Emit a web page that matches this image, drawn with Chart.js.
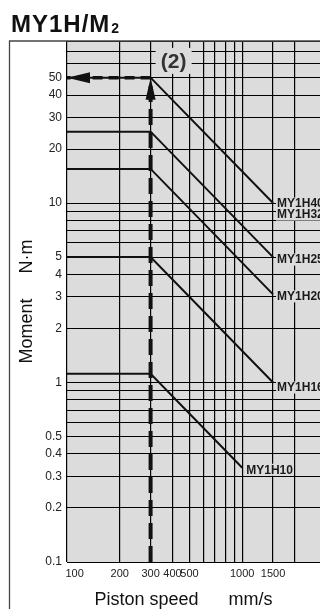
<!DOCTYPE html>
<html>
<head>
<meta charset="utf-8">
<script src="https://cdn.jsdelivr.net/npm/chart.js@4.4.1/dist/chart.umd.min.js"></script>
<style>
  html, body { margin: 0; padding: 0; background: #fff; }
  #wrap { position: relative; width: 320px; height: 609px; }
</style>
</head>
<body>
<div id="wrap"><canvas id="chart"></canvas></div>
<script>
// ── Data ───────────────────────────────────────────────
const speedTicks  = [100, 200, 300, 400, 500, 600, 700, 800, 900, 1000, 1500, 2000];
const speedLabels = [100, 200, 300, 400, 500, 1000, 1500];
const momentTicks = [0.1, 0.2, 0.3, 0.4, 0.5, 0.6, 0.7, 0.8, 0.9,
                     1, 2, 3, 4, 5, 6, 7, 8, 9,
                     10, 20, 30, 40, 50, 60, 70, 80];
const momentLabels = [0.1, 0.2, 0.3, 0.4, 0.5, 1, 2, 3, 4, 5, 10, 20, 30, 40, 50];

const curveSpeeds = [100, 300, 1500];
const m40 = [50, 50, 10];
const m25 = [25, 25, 5];
const m20 = [15.5, 15.5, 3.1];
const m16 = [5, 5, 1];
const m10Speeds = [100, 300, 1000];
const m10 = [1.12, 1.12, 0.335];

// guide: speed 300 mm/s up to the curve, then across to the moment axis
const guideUpSpeeds   = [300, 300];
const guideUpMoments  = [0.1, 50];
const guideLeftSpeeds = [300, 100];
const guideLeftMoments = [50, 50];

const curveNames = ['MY1H40', 'MY1H32', 'MY1H25', 'MY1H20', 'MY1H16', 'MY1H10'];

// ── Helpers ────────────────────────────────────────────
const BG = '#dcdcdc';
const INK = '#111';
const pts = (xs, ys) => xs.map((x, i) => ({ x, y: ys[i] }));

function curve(xs, ys) {
    return { data: pts(xs, ys), borderColor: INK, borderWidth: 2, pointRadius: 0, tension: 0, fill: false };
}

// ── Decoration plugin ──────────────────────────────────
const decor = {
    id: 'decor',
    beforeDraw(chart) {
        const { ctx, chartArea: a } = chart;
        ctx.save();
        ctx.fillStyle = '#fff';
        ctx.fillRect(0, 0, chart.width, chart.height);
        ctx.fillStyle = BG;
        ctx.fillRect(a.left, a.top, a.right - a.left, a.bottom - a.top);
        ctx.restore();
    },
    afterDatasetsDraw(chart) {
        const { ctx, scales: { x, y } } = chart;
        ctx.save();

        // arrow heads
        const px = x.getPixelForValue(guideUpSpeeds[1]);
        const py = y.getPixelForValue(guideUpMoments[1]);
        ctx.fillStyle = INK;
        ctx.beginPath();
        ctx.moveTo(px, py);
        ctx.lineTo(px - 5, py + 22);
        ctx.lineTo(px + 5, py + 22);
        ctx.closePath();
        ctx.fill();
        const lx = x.getPixelForValue(guideLeftSpeeds[1]);
        const ly = y.getPixelForValue(guideLeftMoments[1]);
        ctx.beginPath();
        ctx.moveTo(lx, ly);
        ctx.lineTo(lx + 23, ly - 5.5);
        ctx.lineTo(lx + 23, ly + 5.5);
        ctx.closePath();
        ctx.fill();

        // curve labels at the end of each line
        const ends = [
            [curveSpeeds[2], m40[2], 0.5],
            [curveSpeeds[2], m40[2], 11.5],
            [curveSpeeds[2], m25[2], 2.5],
            [curveSpeeds[2], m20[2], 2],
            [curveSpeeds[2], m16[2], 5],
            [m10Speeds[2], m10[2], 2]
        ];
        ctx.font = 'bold 12px "Liberation Sans", Arial, sans-serif';
        ctx.textBaseline = 'middle';
        ctx.textAlign = 'left';
        curveNames.forEach((name, i) => {
            const ex = x.getPixelForValue(ends[i][0]) + 3;
            const ey = y.getPixelForValue(ends[i][1]) + ends[i][2];
            const w = ctx.measureText(name).width;
            ctx.fillStyle = BG;
            ctx.fillRect(ex, ey - 6, w + 2, 12);
            ctx.fillStyle = '#1a1a1a';
            ctx.fillText(name, ex + 1, ey + 0.5);
        });

        // "(2)" marker
        const cx = x.getPixelForValue(406);
        const cy = y.getPixelForValue(62);
        ctx.fillStyle = BG;
        ctx.fillRect(cx - 18, cy - 13, 36, 26);
        ctx.fillStyle = '#333';
        ctx.font = 'bold 21px "Liberation Sans", Arial, sans-serif';
        ctx.textAlign = 'center';
        ctx.fillText('(2)', cx, cy + 1);

        // outer frame
        ctx.strokeStyle = '#444';
        ctx.lineWidth = 1.3;
        ctx.beginPath();
        ctx.moveTo(9.5, chart.height);
        ctx.lineTo(9.5, 41);
        ctx.lineTo(chart.width, 41);
        ctx.stroke();

        // heading
        ctx.fillStyle = '#111';
        ctx.textAlign = 'left';
        ctx.textBaseline = 'alphabetic';
        ctx.font = 'bold 24px "Liberation Sans", Arial, sans-serif';
        ctx.letterSpacing = '1px';
        ctx.fillText('MY1H/M', 11, 31.5);
        const hw = ctx.measureText('MY1H/M').width;
        ctx.letterSpacing = '0px';
        ctx.font = 'bold 14px "Liberation Sans", Arial, sans-serif';
        ctx.fillText('2', 11 + hw + 1, 33);

        ctx.restore();
    }
};

// ── Chart ──────────────────────────────────────────────
Chart.defaults.font.family = '"Liberation Sans", Arial, sans-serif';
Chart.defaults.color = '#222';

new Chart(document.getElementById('chart'), {
    type: 'line',
    data: {
        datasets: [
            curve(curveSpeeds, m40),
            curve(curveSpeeds, m25),
            curve(curveSpeeds, m20),
            curve(curveSpeeds, m16),
            curve(m10Speeds, m10),
            {
                data: pts(guideUpSpeeds, guideUpMoments),
                borderColor: INK, borderWidth: 4, borderDash: [16, 7],
                pointRadius: 0, fill: false
            },
            {
                data: pts(guideLeftSpeeds, guideLeftMoments),
                borderColor: INK, borderWidth: 3.5, borderDash: [10, 6],
                pointRadius: 0, fill: false
            }
        ]
    },
    options: {
        responsive: true,
        maintainAspectRatio: false,
        animation: false,
        devicePixelRatio: 1,
        layout: { padding: { top: 41, left: 0, right: 0, bottom: 0 } },
        plugins: { legend: { display: false }, tooltip: { enabled: false } },
        scales: {
            x: {
                type: 'logarithmic',
                position: 'bottom',
                min: 100,
                max: 2780,
                afterBuildTicks: s => { s.ticks = speedTicks.map(v => ({ value: v })); },
                afterFit: s => { s.height = 47; },
                grid: { color: '#000', lineWidth: 1.2, drawTicks: false },
                border: { display: false },
                ticks: {
                    autoSkip: false, maxRotation: 0, minRotation: 0, padding: 5,
                    font: { size: 11 },
                    callback: v => speedLabels.includes(v) ? (v === 100 ? '     100' : String(v)) : ''
                },
                title: {
                    display: true,
                    text: 'Piston speed      mm/s    ',
                    color: '#111',
                    font: { size: 18, lineHeight: 1 },
                    padding: { top: 0, bottom: 0 }
                }
            },
            y: {
                type: 'logarithmic',
                position: 'left',
                min: 0.1,
                max: 80,
                afterBuildTicks: s => { s.ticks = momentTicks.map(v => ({ value: v })); },
                afterFit: s => { s.width = 67; },
                grid: { color: '#000', lineWidth: 1, drawTicks: false },
                border: { display: false },
                ticks: {
                    autoSkip: false, padding: 5,
                    font: { size: 12 },
                    callback: v => momentLabels.includes(v) ? String(v) : ''
                },
                title: {
                    display: true,
                    text: 'Moment     N·m',
                    color: '#111',
                    font: { size: 18, lineHeight: 1 },
                    padding: { top: 18, bottom: 0 }
                }
            }
        }
    },
    plugins: [decor]
});
</script>
</body>
</html>
